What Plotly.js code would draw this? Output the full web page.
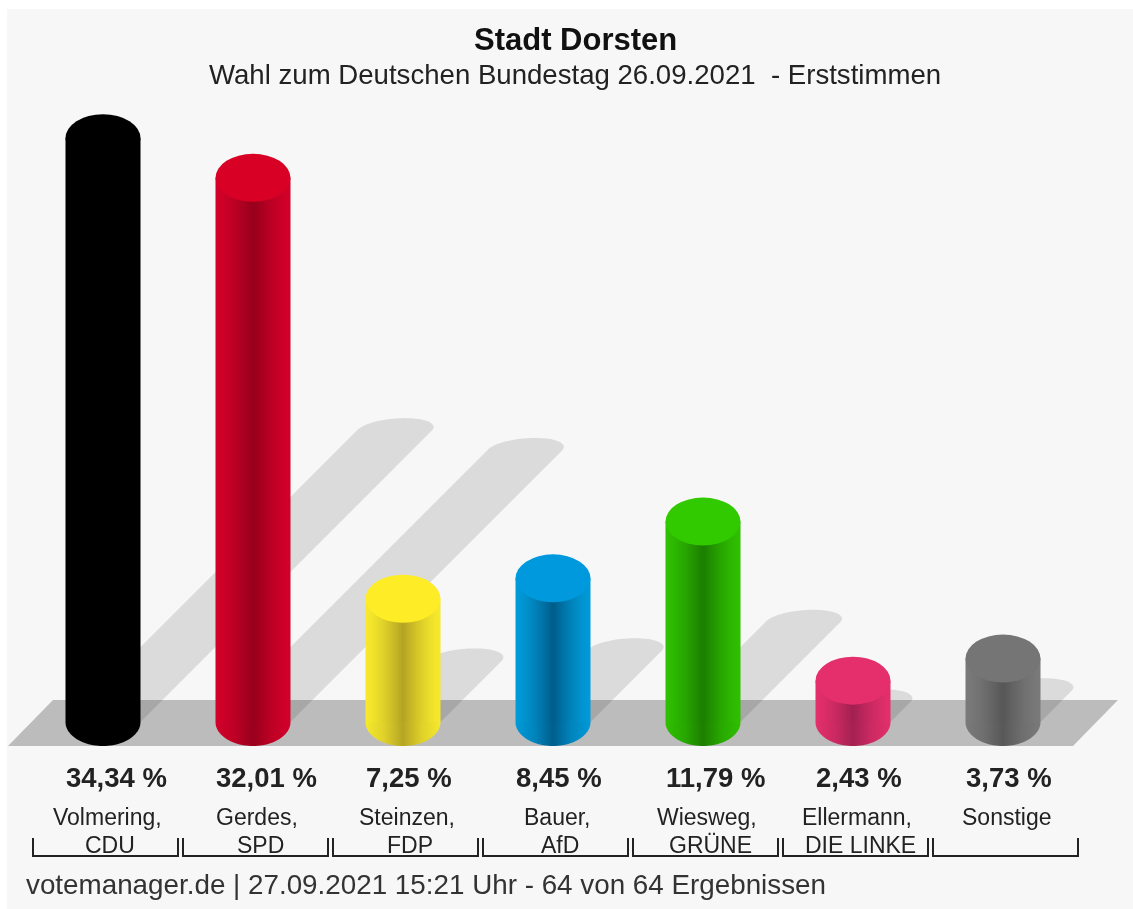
<!DOCTYPE html>
<html><head><meta charset="utf-8">
<script src="https://cdn.plot.ly/plotly-3.0.1.min.js"></script>
<style>html,body{margin:0;padding:0;background:#fff}#c{width:1133px;height:909px;filter:blur(0.6px)}</style>
</head><body><div id="c"></div>
<script>
const names1 = ['Volmering,','Gerdes,','Steinzen,','Bauer,','Wiesweg,','Ellermann,','Sonstige'];
const names2 = ['CDU','SPD','FDP','AfD','GRÜNE','DIE LINKE',''];
const values = [34.34,32.01,7.25,8.45,11.79,2.43,3.73];
const edgeColors = ['#000000','#d2002a','#f6e92c','#009ad8','#2fbf00','#e32f6c','#7a7a7a'];
const coreColors = ['#000000','#98001c','#b5a524','#005e8c','#1c7f00','#a32150','#585858'];
const capColors  = ['#000000','#d90026','#fdec26','#0099dd','#31c900','#e52f6d','#757575'];
const titleText = 'Stadt Dorsten';
const subtitleText = 'Wahl zum Deutschen Bundestag 26.09.2021  - Erststimmen';
const footerText = 'votemanager.de | 27.09.2021 15:21 Uhr - 64 von 64 Ergebnissen';

const W=1133,H=909,X0=103,DX=150,Y0=722,PY=17;
const xr=[-X0/DX,(W-X0)/DX], yr=[(Y0-H)/PY,Y0/PY];
const pxX=p=>(p-X0)/DX, pxY=p=>(Y0-p)/PY;
const halfW=0.25, capH=24/PY;
const xs=values.map((_,i)=>i);

function mix(a,b,t){const p=s=>[1,3,5].map(k=>parseInt(s.substr(k,2),16));
  const A=p(a),B=p(b);return 'rgb('+A.map((v,k)=>Math.round(v+(B[k]-v)*t)).join(',')+')';}
const traces=[];
const steps=20;
for(let s=0;s<steps;s++){
  const f=1-s/steps, t=Math.pow(s/(steps-1),1.4);
  traces.push({type:'bar',x:xs,y:values,width:values.map(()=>2*halfW*f),
    marker:{color:values.map((_,i)=>mix(edgeColors[i],coreColors[i],t)),line:{width:0}},
    hoverinfo:'skip',showlegend:false});
}
values.forEach((v,i)=>{
  const x=[],y=[];
  for(let a=0;a<=48;a++){const t=Math.PI*a/48;x.push(i-halfW*Math.cos(t));y.push(-capH*Math.sin(t));}
  x.push(i-halfW);y.push(0);
  const mid=mix(edgeColors[i],coreColors[i],0.35);
  const c=[[0,edgeColors[i]],[0.25,mid],[0.5,coreColors[i]],[0.75,mid],[1,edgeColors[i]]];
  traces.push({type:'scatter',mode:'none',x,y,fill:'toself',fillgradient:{type:'horizontal',colorscale:c},hoverinfo:'skip',showlegend:false});
});

const shapes=[];
shapes.push({type:'rect',layer:'below',xref:'x',yref:'y',x0:pxX(7),x1:pxX(W),y0:pxY(9),y1:pxY(H),fillcolor:'#f7f7f7',line:{width:0}});
shapes.push({type:'path',layer:'below',xref:'x',yref:'y',
  path:`M${pxX(8)},${pxY(746)}L${pxX(53)},${pxY(700)}L${pxX(1118)},${pxY(700)}L${pxX(1073)},${pxY(746)}Z`,
  fillcolor:'#bcbcbc',line:{width:0}});
values.forEach((v,i)=>{
  const h=v*PY, cx=i+(h/2)/DX, cy=v/2;
  const b=12/PY, pts=[`M${i-halfW},0`];
  for(let a=0;a<=32;a++){const t=Math.PI*a/32;
    pts.push(`L${cx-halfW*Math.cos(t)+(10/DX)*Math.sin(t)},${cy+b*Math.sin(t)}`);}
  pts.push(`L${i+halfW},0Z`);
  shapes.push({type:'path',layer:'below',xref:'x',yref:'y',path:pts.join(''),fillcolor:'rgba(0,0,0,0.11)',line:{width:0}});
});
values.forEach((v,i)=>{
  shapes.push({type:'circle',layer:'above',xref:'x',yref:'y',x0:i-halfW,x1:i+halfW,y0:v-capH,y1:v+capH,fillcolor:capColors[i],line:{width:0}});
});
values.forEach((v,i)=>{
  const l=pxX(33)+i,r=pxX(178)+i;
  shapes.push({type:'path',layer:'above',xref:'x',yref:'y',path:`M${l},${pxY(838)}L${l},${pxY(856)}L${r},${pxY(856)}L${r},${pxY(838)}`,line:{color:'#222',width:2}});
});

const font='"Liberation Sans",Arial,sans-serif';
const ann=[];
const add=(text,px,py,size,color,anchor)=>ann.push({text,xref:'x',yref:'y',x:pxX(px),y:pxY(py),showarrow:false,xanchor:anchor||'center',yanchor:'middle',font:{family:font,size,color}});
add('<b>'+titleText+'</b>',575,39,31,'#111');
add(subtitleText,575,74,27.6,'#222');
values.forEach((v,i)=>{
  add('<b>'+v.toFixed(2).replace('.',',')+' %</b>',64+i*DX,777,27.5,'#222','left');
  add(names1[i],107+i*DX,817,23,'#222');
  if(names2[i])add(names2[i],110+i*DX,845,23,'#222');
});
add(footerText,24,884,27.8,'#333','left');

Plotly.newPlot('c',traces,{
  width:W,height:H,margin:{l:0,r:0,t:0,b:0},
  paper_bgcolor:'#ffffff',plot_bgcolor:'#ffffff',
  barmode:'overlay',showlegend:false,
  xaxis:{range:xr,visible:false,fixedrange:true},
  yaxis:{range:yr,visible:false,fixedrange:true},
  shapes,annotations:ann
},{displayModeBar:false,staticPlot:true});
</script></body></html>
